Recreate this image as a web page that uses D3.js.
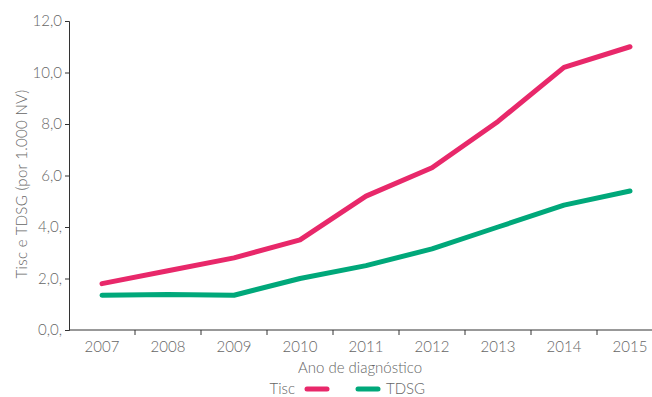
<!DOCTYPE html>
<html>
  <head>
    <meta charset="utf-8">
    <title>Tisc e TDSG</title>
    <script src="https://d3js.org/d3.v7.min.js"></script>
    <style>
      body { margin: 0; background: #fff; }
      text { font-family: Lato, "Open Sans", sans-serif; font-weight: 300; fill: #666; }
    </style>
  </head>
  <body>
    <div id="chart"></div>
    <script>
      var years = ["2007", "2008", "2009", "2010", "2011", "2012", "2013", "2014", "2015"];
      var tisc = [1.8, 2.3, 2.8, 3.5, 5.2, 6.3, 8.1, 10.2, 11.0];
      var tdsg = [1.35, 1.38, 1.35, 2.0, 2.5, 3.15, 4.0, 4.85, 5.4];
      var yTicks = [0, 2, 4, 6, 8, 10, 12];

      var width = 652, height = 397;
      var marginLeft = 69, plotTop = 21, plotBottom = 330;
      var fontSize = "15px";

      var svg = d3.select("#chart").append("svg")
          .attr("width", width).attr("height", height);

      var x = d3.scaleBand().domain(years).range([marginLeft, marginLeft + 66 * 9]);
      var y = d3.scaleLinear().domain([0, 12]).range([plotBottom, plotTop]);

      // y axis
      var yAxis = svg.append("g")
          .attr("transform", "translate(" + marginLeft + ",0)")
          .call(d3.axisLeft(y).tickValues(yTicks).tickSize(4).tickPadding(3)
            .tickFormat(function (d) { return d3.format(".1f")(d).replace(".", ",") + (d <= 4 ? "," : ""); }));
      yAxis.selectAll("text").style("font-size", fontSize);

      // x axis
      var xAxis = svg.append("g")
          .attr("transform", "translate(0," + plotBottom + ")")
          .call(d3.axisBottom(x).tickSize(0).tickPadding(11));
      xAxis.selectAll("text").style("font-size", fontSize);
      xAxis.select(".domain").attr("d", "M" + marginLeft + ",0H" + width);
      // ticks between the years
      xAxis.selectAll(".sep").data(years.slice(1)).enter().append("line")
          .attr("class", "sep")
          .attr("x1", function (d) { return x(d); })
          .attr("x2", function (d) { return x(d); })
          .attr("y1", 0).attr("y2", 5)
          .attr("stroke", "#333");
      svg.selectAll(".domain").attr("stroke", "#333");
      yAxis.selectAll(".tick line").attr("stroke", "#333");

      // axis titles
      svg.append("text")
          .attr("x", 360).attr("y", 373)
          .attr("text-anchor", "middle")
          .style("font-size", fontSize)
          .text("Ano de diagnóstico");

      svg.append("text")
          .attr("transform", "translate(27,184) rotate(-90)")
          .attr("text-anchor", "middle")
          .style("font-size", fontSize)
          .style("letter-spacing", "0.3px")
          .text("Tisc e TDSG (por 1.000 NV)");

      var line = d3.line()
          .x(function (d, i) { return x(years[i]) + x.bandwidth() / 2; })
          .y(function (d) { return y(d); });

      var series = [
        { name: "Tisc", values: tisc, color: "#e8286a" },
        { name: "TDSG", values: tdsg, color: "#00a87a" }
      ];

      svg.selectAll(".series").data(series).enter().append("path")
          .attr("class", "series")
          .attr("d", function (d) { return line(d.values); })
          .attr("fill", "none")
          .attr("stroke", function (d) { return d.color; })
          .attr("stroke-width", 5)
          .attr("stroke-linecap", "round")
          .attr("stroke-linejoin", "round");

      // legend
      var legendY = 389;
      svg.append("text").attr("x", 295).attr("y", legendY + 5)
          .attr("text-anchor", "end").style("font-size", fontSize).text("Tisc");
      svg.append("line").attr("x1", 307).attr("x2", 327)
          .attr("y1", legendY).attr("y2", legendY)
          .attr("stroke", series[0].color).attr("stroke-width", 5).attr("stroke-linecap", "round");
      svg.append("line").attr("x1", 358).attr("x2", 378)
          .attr("y1", legendY).attr("y2", legendY)
          .attr("stroke", series[1].color).attr("stroke-width", 5).attr("stroke-linecap", "round");
      svg.append("text").attr("x", 386).attr("y", legendY + 5)
          .style("font-size", fontSize).text("TDSG");
    </script>
  </body>
</html>
